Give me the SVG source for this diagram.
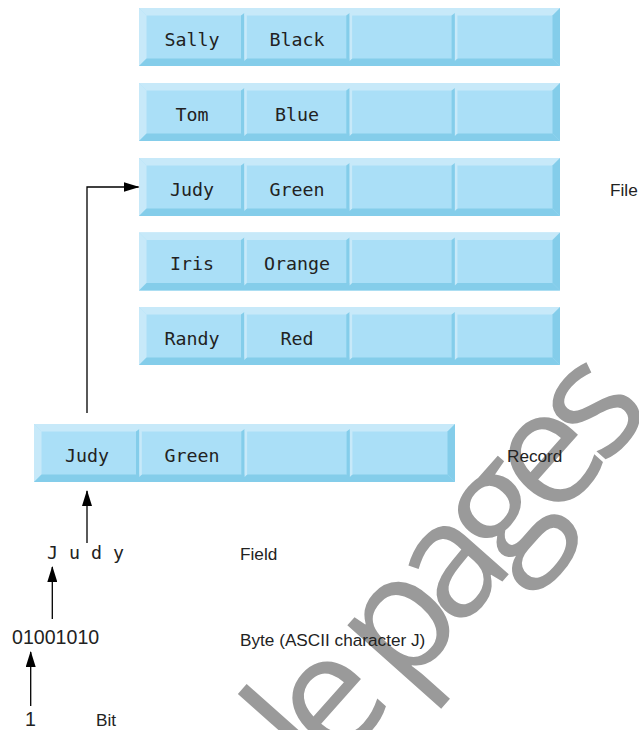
<svg xmlns="http://www.w3.org/2000/svg" width="639" height="730" viewBox="0 0 639 730">
  <defs>
    <style>
      .face { fill: #aadff7; }
      .lite { fill: #c7e9f9; }
      .dark { fill: #84cdea; }
      .mono { font-family: "DejaVu Sans Mono", "Liberation Mono", monospace; font-size: 18.3px; fill: #222; }
      .mid { text-anchor: middle; }
      .lbl { font-family: "Liberation Sans", Arial, sans-serif; font-size: 17.2px; fill: #222; }
      .bits { font-family: "Liberation Sans", Arial, sans-serif; font-size: 19.6px; fill: #222; }
      .wire { fill: none; stroke: #000; stroke-width: 1.3; }
      .mark { font-family: "Open Sans", sans-serif; font-weight: 400; font-size: 162px; letter-spacing: -16.7px; fill: #9a9a9a; }
    </style>
    <marker id="head" markerUnits="userSpaceOnUse" markerWidth="16" markerHeight="10" refX="15" refY="5" orient="auto">
      <path d="M0,0 L16,5 L0,10 Z" fill="#000"/>
    </marker>
    <!-- one record bar: 421 x 58, bevelled, four cells -->
    <g id="bar">
      <rect class="face" x="0" y="0" width="421" height="58"/>
      <polygon class="lite" points="0,0 421,0 413.5,7.5 7.5,7.5"/>
      <polygon class="lite" points="0,0 7.5,7.5 7.5,50.5 0,58"/>
      <polygon class="dark" points="0,58 7.5,50.5 413.5,50.5 421,58"/>
      <polygon class="dark" points="421,0 421,58 413.5,50.5 413.5,7.5"/>
      <g id="divider">
        <polygon class="dark" points="102,7.5 105.3,5 105.3,53 102,50.5"/>
        <polygon class="lite" points="105.3,5 107.8,7.5 107.8,50.5 105.3,53"/>
      </g>
      <use href="#divider" x="105.3"/>
      <use href="#divider" x="210.6"/>
    </g>
  </defs>

  <rect width="639" height="730" fill="#fff"/>

  <!-- watermark -->
  <text class="mark" transform="translate(81,1056) rotate(-48.4)">Sample pages</text>

  <!-- file: five records -->
  <g id="file">
    <g id="rec-sally">
      <use href="#bar" x="139" y="8"/>
      <text class="mono mid" x="192" y="45.5">Sally</text>
      <text class="mono mid" x="297" y="45.5">Black</text>
    </g>
    <g id="rec-tom">
      <use href="#bar" x="139" y="83"/>
      <text class="mono mid" x="192" y="120.5">Tom</text>
      <text class="mono mid" x="297" y="120.5">Blue</text>
    </g>
    <g id="rec-judy">
      <use href="#bar" x="139" y="158"/>
      <text class="mono mid" x="192" y="195.5">Judy</text>
      <text class="mono mid" x="297" y="195.5">Green</text>
    </g>
    <g id="rec-iris">
      <use href="#bar" x="139" y="232.5"/>
      <text class="mono mid" x="192" y="270">Iris</text>
      <text class="mono mid" x="297" y="270">Orange</text>
    </g>
    <g id="rec-randy">
      <use href="#bar" x="139" y="307"/>
      <text class="mono mid" x="192" y="344.5">Randy</text>
      <text class="mono mid" x="297" y="344.5">Red</text>
    </g>
  </g>

  <!-- single record -->
  <g id="record">
    <use href="#bar" x="34" y="424"/>
    <text class="mono mid" x="87" y="461.5">Judy</text>
    <text class="mono mid" x="192" y="461.5">Green</text>
  </g>

  <!-- field -->
  <g id="field">
    <text class="mono" x="47" y="559" xml:space="preserve">J u d y</text>
  </g>

  <!-- byte -->
  <g id="byte">
    <text class="bits" x="12" y="644">01001010</text>
  </g>

  <!-- bit -->
  <g id="bit">
    <text class="bits mid" x="30.5" y="726">1</text>
  </g>

  <!-- level labels -->
  <g id="labels">
    <text class="lbl" x="610" y="196">File</text>
    <text class="lbl" x="507" y="461.5">Record</text>
    <text class="lbl" x="240" y="560">Field</text>
    <text class="lbl" x="240" y="646">Byte (ASCII character J)</text>
    <text class="lbl" x="96" y="726">Bit</text>
  </g>

  <!-- connectors -->
  <g id="connectors">
    <path class="wire" d="M87,413 V187 H138.5" marker-end="url(#head)"/>
    <path class="wire" d="M87,543 V491" marker-end="url(#head)"/>
    <path class="wire" d="M52.3,619 V567" marker-end="url(#head)"/>
    <path class="wire" d="M30.7,706 V652" marker-end="url(#head)"/>
  </g>
</svg>
